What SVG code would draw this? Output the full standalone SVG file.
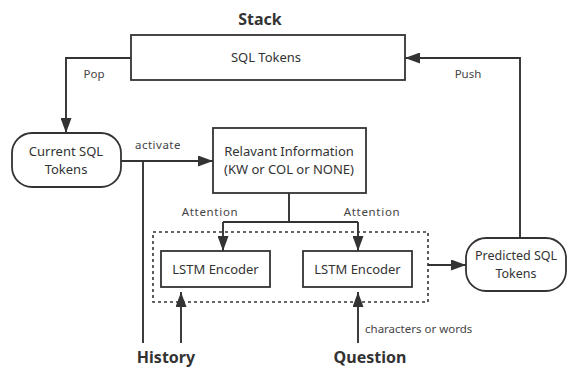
<svg xmlns="http://www.w3.org/2000/svg" width="568" height="368" viewBox="0 0 568 368">
<style>
  .box{fill:#fff;stroke:#333;stroke-width:1.8}
  .ln{fill:none;stroke:#333;stroke-width:1.9}
  .t{font-family:"Noto Sans","Open Sans",sans-serif;font-size:13px;fill:#333;text-anchor:middle}
  .s{font-family:"Noto Sans","Open Sans",sans-serif;font-size:11.5px;fill:#444;text-anchor:middle}
  .b{font-family:"Noto Sans","Open Sans",sans-serif;font-size:16px;font-weight:bold;fill:#333;text-anchor:middle}
</style>
<defs>
  <marker id="ar" markerUnits="userSpaceOnUse" markerWidth="15" markerHeight="11" refX="15" refY="5.5" orient="auto">
    <path d="M0,0 L15,5.5 L0,11 z" fill="#333"/>
  </marker>
</defs>
<rect width="568" height="368" fill="#fff"/>
<g id="connectors">
  <path class="ln" d="M131,58 H66 V133" marker-end="url(#ar)"/>
  <path class="ln" d="M520,238 V58 H405" marker-end="url(#ar)"/>
  <path class="ln" d="M121,161 H213" marker-end="url(#ar)"/>
  <path class="ln" d="M143,161 V343"/>
  <path class="ln" d="M289,193 V222 M223,222 H358"/>
  <path class="ln" d="M223,222 V251" marker-end="url(#ar)"/>
  <path class="ln" d="M358,222 V251" marker-end="url(#ar)"/>
  <path class="ln" d="M181,343 V292" marker-end="url(#ar)"/>
  <path class="ln" d="M358,343 V292" marker-end="url(#ar)"/>
  <path class="ln" d="M428,265 H466" marker-end="url(#ar)"/>
  <text class="s" x="94" y="78">Pop</text>
  <text class="s" x="468" y="78">Push</text>
  <text class="s" x="158" y="149" letter-spacing="0.5">activate</text>
  <text class="s" x="210" y="216" letter-spacing="0.7">Attention</text>
  <text class="s" x="372" y="216" letter-spacing="0.7">Attention</text>
  <text class="s" x="365" y="333" style="text-anchor:start">characters or words</text>
</g>
<g id="stack">
  <text class="b" x="260" y="25">Stack</text>
  <rect class="box" x="131" y="35" width="274" height="45"/>
  <text class="t" x="266" y="62">SQL Tokens</text>
</g>
<g id="current">
  <rect class="box" x="12" y="133" width="109" height="54" rx="20"/>
  <text class="t" x="66" y="156">Current SQL</text>
  <text class="t" x="66" y="174">Tokens</text>
</g>
<g id="relevant">
  <rect class="box" x="213" y="128" width="153" height="65"/>
  <text class="t" x="289" y="156">Relavant Information</text>
  <text class="t" x="289" y="174">(KW or COL or NONE)</text>
</g>
<g id="encoders">
  <rect x="153" y="232" width="275" height="70" fill="none" stroke="#333" stroke-width="1.6" stroke-dasharray="3,3"/>
</g>
<g id="lstm1">
  <rect class="box" x="161" y="251" width="109" height="36"/>
  <text class="t" x="215.5" y="274">LSTM Encoder</text>
</g>
<g id="lstm2">
  <rect class="box" x="303" y="251" width="109" height="36"/>
  <text class="t" x="357.5" y="274">LSTM Encoder</text>
</g>
<g id="predicted">
  <rect class="box" x="466" y="238" width="100" height="53" rx="20"/>
  <text class="t" x="516" y="260" style="font-size:12.5px">Predicted SQL</text>
  <text class="t" x="516" y="278" style="font-size:12.5px">Tokens</text>
</g>
<g id="history">
  <text class="b" x="166" y="363">History</text>
</g>
<g id="question">
  <text class="b" x="370" y="363">Question</text>
</g>
</svg>
